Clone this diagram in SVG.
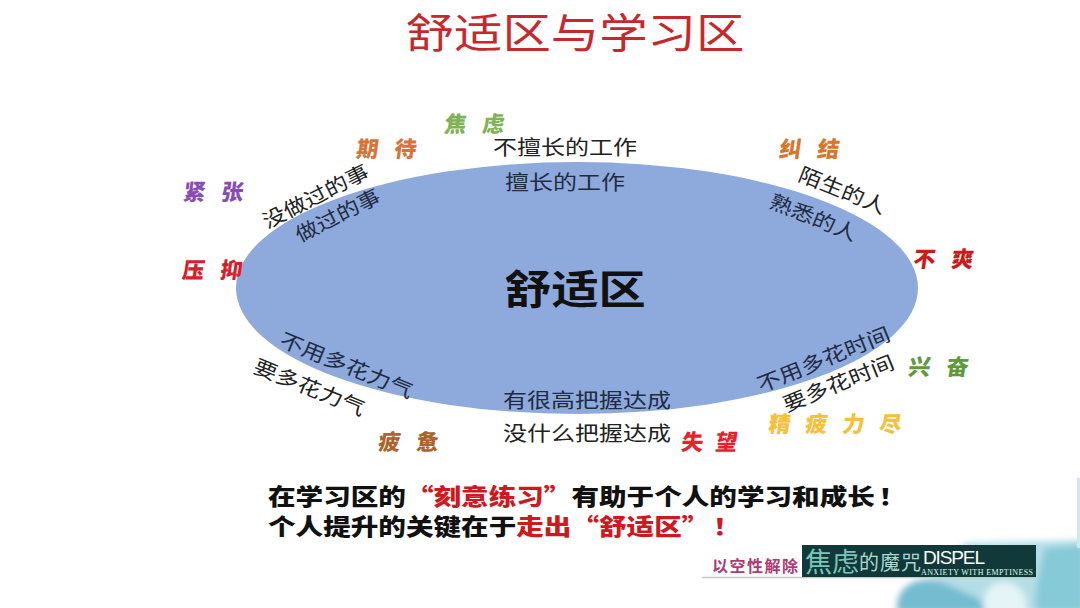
<svg xmlns="http://www.w3.org/2000/svg" width="1080" height="608" viewBox="0 0 1080 608">
<style>
text{font-family:"Noto Sans CJK SC","Noto Sans",sans-serif;text-anchor:middle;dominant-baseline:central}
.k{font-size:20px;fill:#222}
.in{font-size:20px;fill:#1f2c44}
.e{font-size:22px;font-weight:900;letter-spacing:16px}
.b{font-size:23px;font-weight:900;fill:#111;text-anchor:start}
.r{fill:#d01820}
</style>
<defs><filter id="soft" x="-10%" y="-10%" width="120%" height="120%"><feGaussianBlur stdDeviation="3"/></filter></defs>
<rect width="1080" height="608" fill="#fff"/>
<g id="watercolor">
<g filter="url(#soft)">
<path d="M900 612C897 592 905 582 925 578C950 572 955 552 965 543L1085 540V612Z" fill="#b4deE6"/>
<path d="M897 612C896 592 906 582 925 581C945 580 955 588 968 594C980 598 985 604 985 612Z" fill="#74bcd0"/>
<path d="M1036 612C1034 590 1040 570 1045 548L1085 545V612Z" fill="#86cad7"/>
<path d="M985 612C980 595 990 582 1005 582C1020 584 1030 598 1025 612Z" fill="#e4f4f7"/>
</g>
<rect x="1077" y="478" width="3" height="70" fill="#cfeaef"/>
</g>
<text id="title" transform="translate(575 30) scale(1.18 1)" font-size="41" fill="#c8282c">舒适区与学习区</text>
<g id="comfort-zone">
<ellipse cx="577" cy="288" rx="341" ry="126" fill="#8ea9db"/>
<text transform="translate(575 287) scale(1.18 1)" font-size="40" font-weight="700" fill="#111">舒适区</text>
</g>
<g id="inner-labels">
<text class="in" transform="translate(565 181) scale(1.2 1)">擅长的工作</text>
<text class="in" transform="translate(337 214) rotate(-27) scale(1.15 1)">做过的事</text>
<text class="in" transform="translate(814 216) rotate(22) scale(1.15 1)">熟悉的人</text>
<text class="in" transform="translate(347 364) rotate(22) scale(1.18 1)">不用多花力气</text>
<text class="in" transform="translate(587 399) scale(1.2 1)">有很高把握达成</text>
<text class="in" transform="translate(823 358) rotate(-22) scale(1.18 1)">不用多花时间</text>
</g>
<g id="outer-labels">
<text class="k" transform="translate(565 146) scale(1.2 1)">不擅长的工作</text>
<text class="k" transform="translate(315 195) rotate(-27) scale(1.16 1)">没做过的事</text>
<text class="k" transform="translate(843 189) rotate(22) scale(1.15 1)">陌生的人</text>
<text class="k" transform="translate(310 386) rotate(22) scale(1.18 1)">要多花力气</text>
<text class="k" transform="translate(587 432) scale(1.2 1)">没什么把握达成</text>
<text class="k" transform="translate(838 382) rotate(-22) scale(1.18 1)">要多花时间</text>
</g>
<g id="emotions">
<text class="e" transform="translate(483 122) skewX(-8)" fill="#7fb356">焦虑</text>
<text class="e" transform="translate(395 147) skewX(-8)" fill="#d8733a">期待</text>
<text class="e" transform="translate(222 190) skewX(-8)" fill="#8a4bb5">紧张</text>
<text class="e" transform="translate(221 268) skewX(-8)" fill="#d4202a">压抑</text>
<text class="e" transform="translate(818 147) skewX(-8)" fill="#d8762c">纠结</text>
<text class="e" transform="translate(952 257) skewX(-8)" fill="#cc1a1a">不爽</text>
<text class="e" transform="translate(947 365) skewX(-8)" fill="#5f9a3c">兴奋</text>
<text class="e" transform="translate(843 422) skewX(-8)" fill="#f5c03a" style="letter-spacing:15px">精疲力尽</text>
<text class="e" transform="translate(716 440) skewX(-8)" fill="#e8222c" style="letter-spacing:12px">失望</text>
<text class="e" transform="translate(417 440) skewX(-8)" fill="#b0622c">疲惫</text>
</g>
<g id="summary">
<text class="b" transform="translate(268 495) scale(1.2 1)">在学习区的<tspan class="r">“刻意练习”</tspan>有助于个人的学习和成长<tspan dx="3">！</tspan></text>
<text class="b" transform="translate(268 525) scale(1.2 1)">个人提升的关键在于<tspan class="r">走出“舒适区”<tspan dx="3">！</tspan></tspan></text>
</g>
<g id="banner">
<path d="M706 545H802V577H702Z" fill="#fff"/>
<path d="M702 577.5H1036" stroke="#c8c8c8" stroke-width="1.5" fill="none"/>
<rect x="802" y="545" width="234" height="32" fill="#12393a"/>
<text x="755" y="565" font-size="16" font-weight="700" fill="#b03a74" textLength="86">以空性解除</text>
<text x="832" y="560" font-size="27" fill="#7cc4b8">焦虑</text>
<text x="890" y="561" font-size="20" fill="#a8d8cf" textLength="62">的魔咒</text>
<text x="954" y="557" font-size="19" fill="#fff" style="font-family:'Liberation Sans',sans-serif" textLength="62">DISPEL</text>
<text x="977" y="572" font-size="8" fill="#dfe" style="font-family:'Liberation Serif',serif" textLength="112">ANXIETY WITH EMPTINESS</text>
</g>
</svg>
